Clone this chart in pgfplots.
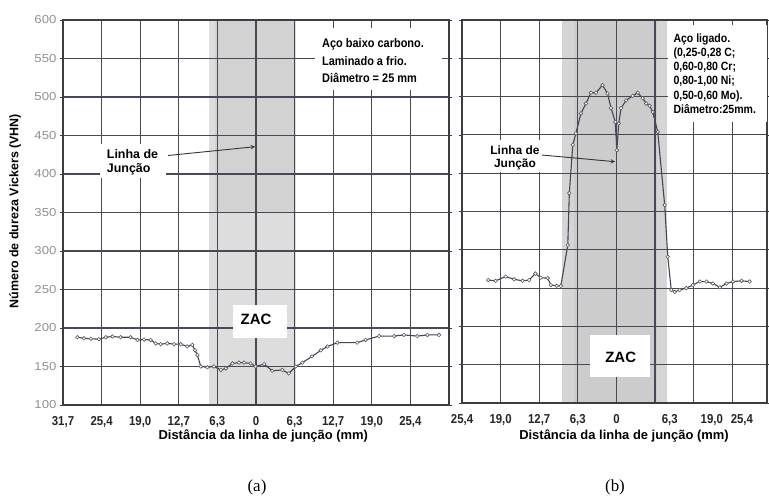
\documentclass[border=0pt]{standalone}
\usepackage{fontspec}
\setmainfont{Liberation Sans}
\newfontfamily\condfont[FakeStretch=0.88]{Liberation Sans}
\newfontfamily\widefont[FakeStretch=1.15]{Liberation Sans}
\newfontfamily\tnr{Liberation Serif}
\usepackage{pgfplots}
\pgfplotsset{compat=1.18}
\definecolor{gridc}{RGB}{72,72,86}
\definecolor{framec}{RGB}{60,60,66}
\definecolor{linec}{RGB}{68,68,88}
\definecolor{tickc}{RGB}{145,145,145}
\pgfplotsset{
  panel/.style={
    scale only axis, axis on top,
    ymin=100, ymax=600, ytick={100,150,...,600},
    grid=major, major grid style={gridc, line width=1.1bp},
    axis line style={framec, line width=1.3bp},
    tick align=outside, major tick length=3bp,
    xtick style={draw=none}, ytick style={framec, line width=0.6bp},
    /pgf/number format/assume math mode=true,
    yticklabel style={font=\widefont\fontsize{11.5}{13}\selectfont, text=tickc},
    xticklabel style={font=\condfont\bfseries\fontsize{13}{15}\selectfont, text=black!85, yshift=-5bp},
  },
  dataline/.style={linec, line width=1.1bp, mark=*, mark size=1.8bp,
    mark options={fill=white, draw=gray!70!black, line width=0.6bp}},
  band/.style={draw=none, fill=#1, mark=none},
}
\begin{document}
\begin{tikzpicture}
\useasboundingbox (0bp,0bp) rectangle (769bp,496bp);
\fill[white] (0bp,0bp) rectangle (769bp,496bp);

% ---------- (a) ----------
\begin{axis}[panel, at={(63bp,91bp)}, anchor=south west,
  width=386bp, height=385bp, xmin=-5, xmax=5,
  xtick={-5,...,4},
  xticklabels={{31,7},{25,4},{19,0},{12,7},{6,3},0,{6,3},{12,7},{19,0},{25,4}}]
\addplot[band=gray!27] coordinates {(-1.22,100) (1.04,100) (1.04,600) (-1.22,600)} -- cycle;
\addplot[band=gray!35] coordinates {(-1.05,350) (0.98,350) (0.98,600) (-1.05,600)} -- cycle;
\addplot[dataline] coordinates {
(-4.63,188) (-4.46,186.6) (-4.28,186) (-4.07,185.5) (-3.89,188) (-3.72,189)
(-3.51,188) (-3.25,188) (-3.07,184.5) (-2.90,185) (-2.73,184.5) (-2.60,180)
(-2.47,179) (-2.30,180) (-2.12,179) (-1.95,179) (-1.78,176) (-1.65,178)
(-1.58,171) (-1.52,165) (-1.43,150) (-1.26,149) (-1.09,150) (-0.91,145.5)
(-0.78,147.5) (-0.61,154) (-0.44,155) (-0.31,155) (-0.14,154) (-0.01,150)
(0.21,153) (0.42,144.5) (0.68,145.5) (0.85,141) (1.03,150) (1.20,155)
(1.45,163) (1.68,171) (1.85,176) (2.11,181) (2.62,181) (2.84,184.5) (3.19,189.5)
(3.58,189.5) (3.83,191) (4.18,189.5) (4.44,191) (4.74,191)
};
\end{axis}

% ---------- (b) ----------
\begin{axis}[panel, at={(462bp,93bp)}, anchor=south west,
  width=305bp, height=383bp, xmin=-4, xmax=3.9,
  xtick={-3,...,3},
  xticklabels={{19,0},{12,7},{6,3},0,{},{},{}},
  yticklabels={},
  extra x ticks={-4,1.38,2.47,3.25},
  extra x tick labels={{25,4},{6,3},{19,0},{25,4}},
  extra x tick style={grid=none}]
\addplot[band=gray!33] coordinates {(-1.40,100) (1.30,100) (1.30,600) (-1.40,600)} -- cycle;
\addplot[band=gray!40] coordinates {(-1.10,100) (1.05,100) (1.05,600) (-1.10,600)} -- cycle;
\addplot[dataline] coordinates {
(-3.32,260.5) (-3.13,259.5) (-2.87,265) (-2.65,261.5) (-2.43,259.5) (-2.26,260.5)
(-2.10,269) (-1.96,263.5) (-1.78,263) (-1.70,254) (-1.55,253) (-1.44,253)
(-1.26,306) (-1.22,374) (-1.13,437) (-1.05,452) (-0.92,478) (-0.79,491)
(-0.66,505) (-0.53,505) (-0.36,515) (-0.23,504) (-0.14,485) (-0.03,467)
(0.01,430) (0.06,465) (0.12,485) (0.25,495) (0.42,501) (0.55,505)
(0.68,498) (0.77,491) (0.86,488) (0.94,480) (1.07,454) (1.25,358.5)
(1.33,291) (1.42,247.5) (1.51,245) (1.64,247.5) (1.81,250) (1.98,254)
(2.16,258.5) (2.33,258.5) (2.50,256) (2.68,251) (2.85,256) (3.02,258.5)
(3.24,259.5) (3.45,258.5)
};
\end{axis}

% ---------- annotations (a) ----------
\fill[white] (315bp,406bp) rectangle (442bp,468bp);
\begin{scope}[every node/.style={inner sep=0pt, anchor=base west,
   font=\condfont\bfseries\fontsize{12.5}{15}\selectfont}]
\node at (322bp,448.7bp) {Aço baixo carbono.};
\node at (322bp,430.3bp) {Laminado a frio.};
\node at (322bp,413bp) {Diâmetro = 25 mm};
\end{scope}
\fill[white] (100bp,318bp) rectangle (166bp,352bp);
\begin{scope}[every node/.style={inner sep=0pt, anchor=base west,
   font=\bfseries\fontsize{12.5}{15}\selectfont}]
\node at (106.7bp,337.7bp) {Linha de};
\node at (106.7bp,323.5bp) {Junção};
\end{scope}
\draw[black!80, line width=0.9bp, -stealth] (168bp,340.5bp) -- (255bp,349.3bp);
\fill[white] (233bp,158bp) rectangle (287bp,191bp);
\node[font=\bfseries\fontsize{15}{17}\selectfont] at (256bp,176.5bp) {ZAC};

% ---------- annotations (b) ----------
\fill[white] (668bp,374bp) rectangle (767bp,471bp);
\begin{scope}[every node/.style={inner sep=0pt, anchor=base west,
   font=\condfont\bfseries\fontsize{12}{14}\selectfont}]
\node at (673.3bp,453.3bp) {Aço ligado.};
\node at (673.3bp,439.3bp) {(0,25-0,28 C;};
\node at (673.3bp,425.3bp) {0,60-0,80 Cr;};
\node at (673.3bp,411bp) {0,80-1,00 Ni;};
\node at (673.3bp,396.7bp) {0,50-0,60 Mo).};
\node at (673.3bp,382.7bp) {Diâmetro:25mm.};
\end{scope}
\fill[white] (487bp,324bp) rectangle (543bp,356bp);
\begin{scope}[every node/.style={inner sep=0pt, anchor=base,
   font=\bfseries\fontsize{12}{14}\selectfont}]
\node at (515bp,341bp) {Linha de};
\node at (515bp,328bp) {Junção};
\end{scope}
\draw[black!80, line width=0.9bp, -stealth] (541.7bp,341bp) -- (615bp,334.3bp);
\fill[white] (590bp,119bp) rectangle (650bp,161bp);
\node[font=\bfseries\fontsize{15}{17}\selectfont] at (620.7bp,138.5bp) {ZAC};

% ---------- axis titles ----------
\node[rotate=90, font=\bfseries\fontsize{12.5}{15}\selectfont] at (15bp,285bp) {Número de dureza Vickers (VHN)};
\node[anchor=base, font=\bfseries\fontsize{13}{15}\selectfont] at (263.3bp,56bp) {Distância da linha de junção (mm)};
\node[anchor=base, font=\bfseries\fontsize{13}{15}\selectfont] at (624bp,56bp) {Distância da linha de junção (mm)};
\node[font=\tnr\fontsize{17}{19}\selectfont] at (257bp,9bp) {(a)};
\node[font=\tnr\fontsize{17}{19}\selectfont] at (615bp,9bp) {(b)};
\end{tikzpicture}
\end{document}
